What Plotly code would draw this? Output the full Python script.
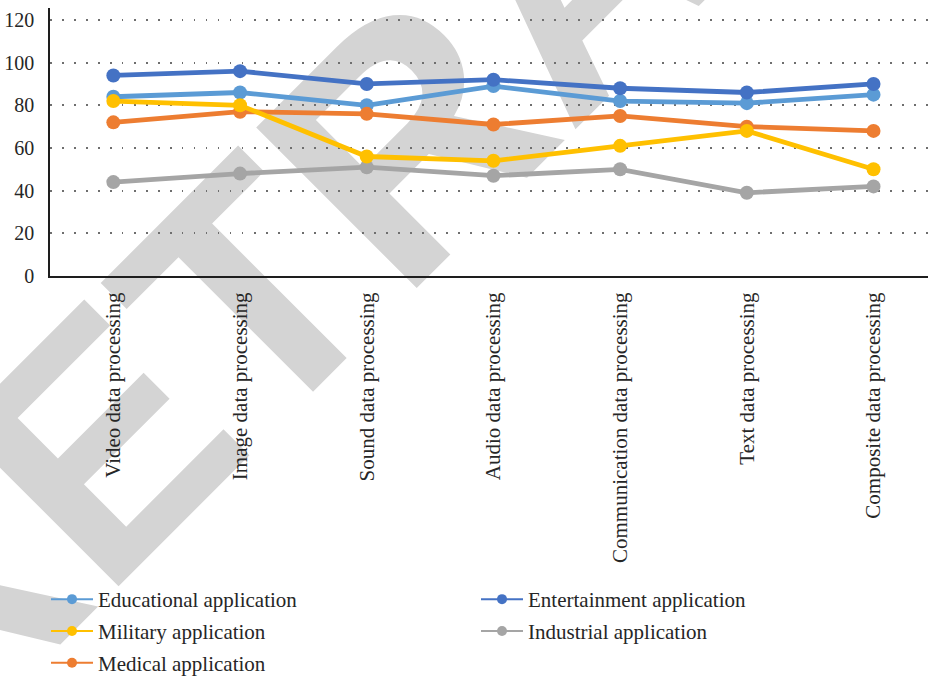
import plotly.graph_objects as go

categories = [
    "Video data processing",
    "Image data processing",
    "Sound data processing",
    "Audio data processing",
    "Communication data processing",
    "Text data processing",
    "Composite data processing",
]

educational = [84, 86, 80, 89, 82, 81, 85]
entertainment = [94, 96, 90, 92, 88, 86, 90]
military = [82, 80, 56, 54, 61, 68, 50]
industrial = [44, 48, 51, 47, 50, 39, 42]
medical = [72, 77, 76, 71, 75, 70, 68]

y_ticks = [0, 20, 40, 60, 80, 100, 120]

# (name, values, colour, legend column, legend row); list order = drawing order
series = [
    ("Educational application", educational, "#5B9BD5", 1, 1),
    ("Entertainment application", entertainment, "#4472C4", 2, 1),
    ("Medical application", medical, "#ED7D31", 1, 3),
    ("Industrial application", industrial, "#A5A5A5", 2, 2),
    ("Military application", military, "#FFC000", 1, 2),
]

SERIF = "Liberation Serif, Times New Roman, serif"
TEXT = "#262626"

W, H = 928, 678
M_L, M_R, M_T, M_B = 50, 0, 8, 402

fig = go.Figure()

for name, values, colour, col, row in series:
    fig.add_trace(go.Scatter(
        x=categories, y=values, mode="lines+markers", name=name,
        legendgroup=name, showlegend=False,
        line=dict(color=colour, width=4.8),
        marker=dict(color=colour, size=14),
    ))

# legend entries with thinner symbols, two columns
for name, values, colour, col, row in sorted(series, key=lambda s: (s[3], s[4])):
    fig.add_trace(go.Scatter(
        x=[None], y=[None], mode="lines+markers", name=name,
        legendgroup=name, legend="legend" if col == 1 else "legend2",
        line=dict(color=colour, width=2),
        marker=dict(color=colour, size=10),
    ))


def px_to_paper(px, py):
    return (px - M_L) / (W - M_L - M_R), (H - M_B - py) / (H - M_T - M_B)


# diagonal "RETRACTED" stamp behind the chart
x0, y0 = px_to_paper(251, 248)
x1, y1 = px_to_paper(851, -352)
fig.add_shape(
    type="line", xref="paper", yref="paper", layer="below",
    x0=x0, y0=y0, x1=x1, y1=y1,
    line=dict(color="rgba(0,0,0,0)", width=0),
    label=dict(
        text="RETRACTED", textposition="middle", textangle=-45,
        yanchor="middle", xanchor="center",
        font=dict(family="Liberation Sans, Arial, sans-serif", size=330,
                  color="#d4d4d4", weight="bold"),
    ),
)

legend_style = dict(
    orientation="v", xref="container", yref="container",
    xanchor="left", yanchor="top", y=1 - 579 / H,
    itemwidth=42, traceorder="grouped", tracegroupgap=1.5,
    font=dict(family=SERIF, size=21, color=TEXT),
    bgcolor="rgba(0,0,0,0)",
)

fig.update_layout(
    width=W, height=H,
    margin=dict(l=M_L, r=M_R, t=M_T, b=M_B, autoexpand=False),
    paper_bgcolor="white",
    plot_bgcolor="rgba(0,0,0,0)",
    font=dict(family=SERIF, color=TEXT),
    showlegend=True,
    legend=dict(x=46 / W, **legend_style),
    legend2=dict(x=476 / W, **legend_style),
    xaxis=dict(
        type="category", range=[-0.5, 6.43],
        tickangle=-90, tickfont=dict(family=SERIF, size=21, color=TEXT),
        ticks="", showgrid=False, automargin=False,
        showline=True, linecolor="#1e1e1e", linewidth=2,
        ticklabelstandoff=6,
    ),
    yaxis=dict(
        range=[0, 125.6], tickmode="array", tickvals=y_ticks,
        tickfont=dict(family=SERIF, size=20, color=TEXT),
        ticks="", automargin=False,
        showline=True, linecolor="#1e1e1e", linewidth=1.5,
        showgrid=True, gridcolor="#6e6e6e", gridwidth=1.5,
        griddash="1.5px,10.5px", zeroline=False,
        ticklabelstandoff=10,
    ),
)

fig.write_html("out.html")
